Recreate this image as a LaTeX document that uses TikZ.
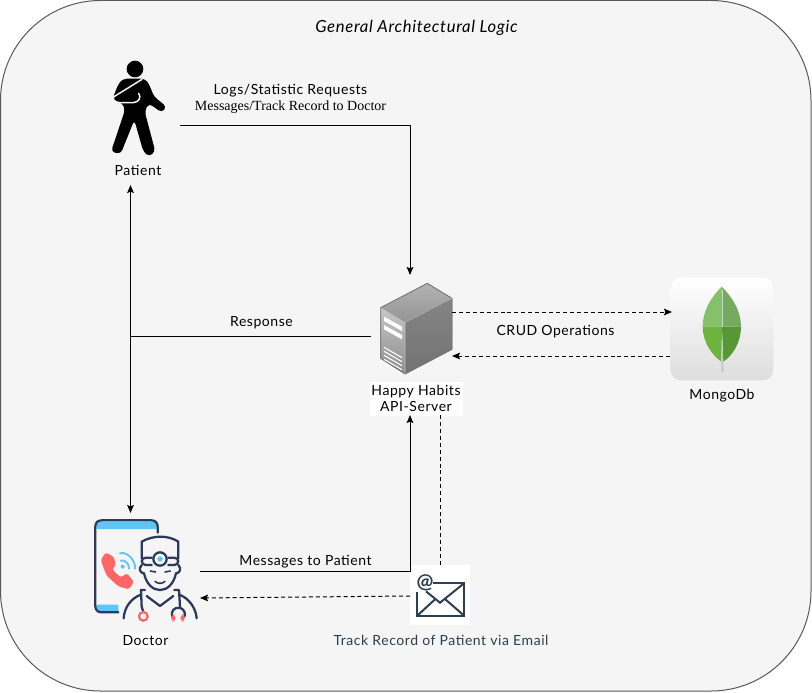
\documentclass[tikz,border=0pt]{standalone}
\usepackage{fontspec}
\setmainfont[LetterSpace=4]{Lato}
\newfontfamily\serifish{Liberation Serif}
\usetikzlibrary{arrows.meta,calc}
\definecolor{panel}{HTML}{F5F5F5}
\definecolor{navy}{HTML}{2B3A5C}
\definecolor{mailink}{HTML}{2D3E50}
\definecolor{skyb}{HTML}{5FC5F5}
\definecolor{redp}{HTML}{FF6666}
\tikzset{
  x=0.75pt,y=-0.75pt,
  lbl/.style={inner sep=0pt,align=center,font=\fontsize{10.5}{12}\selectfont},
  slot/.style={inner sep=0pt,draw=none,fill=none},
  flow/.style={draw=black,line width=0.75pt,-{Stealth[length=6pt,width=5pt,inset=1pt]}},
  both/.style={draw=black,line width=0.75pt,{Stealth[length=6pt,width=5pt,inset=1pt]}-{Stealth[length=6pt,width=5pt,inset=1pt]}},
  plainline/.style={draw=black,line width=0.75pt},
  dflow/.style={flow,dash pattern=on 3pt off 2.2pt},
  dline/.style={plainline,dash pattern=on 3pt off 2.2pt},
  navyline/.style={draw=navy,line width=1.7pt,line cap=round,line join=round},
}
\begin{document}
\begin{tikzpicture}
\useasboundingbox (0,0) rectangle (812,692);
\draw[fill=panel,draw=black!65,line width=0.75pt,rounded corners=75pt] (0.5,0.5) rectangle (811,691);
\node[lbl,font=\fontsize{12.5}{14}\selectfont\itshape] (title) at (416.5,28) {General Architectural Logic};

% white label backgrounds
\fill[white] (370,382) rectangle (463,416);
\fill[white] (123,633) rectangle (168,648);

% invisible icon boxes
\node[slot,minimum width=63pt,minimum height=97pt] (patient) at (138,125) {};
\node[slot,minimum width=54pt,minimum height=91pt] (server) at (416,336) {};
\node[slot,minimum width=76.5pt,minimum height=76.5pt] (mongo) at (722,329) {};
\node[slot,minimum width=78pt,minimum height=84pt] (doctor) at (148,571) {};
\node[slot,minimum width=45pt,minimum height=45pt,fill=white] (mail) at (440,595) {};

% patient figure
\begin{scope}[shift={(80,40)},x=0.25pt,y=-0.25pt]
  \fill[black] (165,87) circle (25);
  \fill[black,rounded corners=3pt] (130,116) -- (195,116) -- (207,132) -- (222,170) -- (260,200) -- (246,218) -- (206,190) -- (194,214) -- (226,335) -- (207,350) -- (190,335) -- (163,240) -- (122,342) -- (93,335) -- (135,210) -- (128,190) -- (97,178) -- (116,130) -- cycle;
  \draw[panel,line width=1.1pt,line cap=round,line join=round] (186,118) -- (102,170) .. controls (97,178) and (100,186) .. (112,188) -- (160,188) .. controls (178,186) and (184,172) .. (176,160);
\end{scope}

% server
\begin{scope}[shift={(350,270)},x=0.25pt,y=-0.25pt]
  \fill[top color=black!30,bottom color=black!42] (92,113) -- (232,40) -- (306,85) -- (165,157) -- cycle;
  \fill[top color=black!22,bottom color=black!45] (92,113) -- (165,157) -- (165,312) -- (92,265) -- cycle;
  \fill[top color=black!48,bottom color=black!55] (165,157) -- (306,85) -- (306,238) -- (165,312) -- cycle;
  \draw[black!55,line width=0.6pt,line join=round] (92,113) -- (232,40) -- (306,85) -- (306,238) -- (165,312) -- (92,265) -- cycle;
  \draw[black!25,line width=0.4pt] (92,113) -- (165,157) -- (306,85) (165,157) -- (165,312);
  \fill[white] (102,140) -- (156,170) -- (156,183) -- (102,153) -- cycle;
  \fill[white] (102,165) -- (156,195) -- (156,208) -- (102,178) -- cycle;
  \foreach \d in {0,12,24,36,48} {
    \draw[white,line width=0.8pt] (102,232+\d) -- (156,263+\d);
  }
\end{scope}

% mongo tile
\shade[top color=white,bottom color=black!13,rounded corners=7.5pt] (mongo.south west) rectangle (mongo.north east);
\begin{scope}[shift={(660,270)},x=0.25pt,y=-0.25pt]
  \fill[fill={rgb,255:red,134;green,192;blue,106}] (185,50) .. controls (150,85) and (128,125) .. (128,170) -- (186,170) -- cycle;
  \fill[fill={rgb,255:red,118;green,171;blue,95}] (185,50) .. controls (220,85) and (243,125) .. (243,170) -- (186,170) -- cycle;
  \fill[fill={rgb,255:red,108;green,179;blue,63}] (128,170) .. controls (128,215) and (155,255) .. (184,275) -- (186,170) -- cycle;
  \fill[fill={rgb,255:red,88;green,150;blue,54}] (243,170) .. controls (243,215) and (220,255) .. (190,275) -- (186,170) -- cycle;
  \draw[white,opacity=0.6,line width=0.5pt] (186,60) -- (186,170);
  \fill[black!22] (184,240) -- (188,240) -- (191,305) -- (184,307) -- cycle;
\end{scope}

% doctor
\begin{scope}[shift={(85,510)},x=0.25pt,y=-0.25pt]
  \fill[skyb] (35,57) -- (35,50) .. controls (35,40) and (40,35) .. (50,35) -- (200,35) .. controls (210,35) and (215,40) .. (215,50) -- (215,57) -- cycle;
  \fill[skyb] (35,284) -- (100,284) -- (100,305) -- (50,305) .. controls (40,305) and (35,300) .. (35,290) -- cycle;
  \draw[navyline] (218,68) -- (218,50) .. controls (218,38) and (210,31) .. (200,31) -- (50,31) .. controls (38,31) and (31,38) .. (31,50) -- (31,288) .. controls (31,300) and (38,307) .. (50,307) -- (100,307);
  % handset
  \fill[redp,rounded corners=2pt] (47,150) -- (62,127) -- (86,140) -- (93,165) -- (81,178) -- (108,203) -- (125,189) -- (147,215) -- (132,238) -- (100,229) -- (65,197) -- cycle;
  % waves
  \draw[skyb,line width=1.4pt,line cap=round] (105,130) .. controls (125,123) and (152,150) .. (150,176);
  \draw[skyb,line width=1.4pt,line cap=round] (107,152) .. controls (118,147) and (134,162) .. (132,176);
  \fill[skyb] (113,170) circle (6);
  % cap
  \fill[panel] (170,165) -- (170,95) .. controls (205,75) and (250,75) .. (280,95) -- (280,165) -- (282,185) .. controls (275,225) and (245,240) .. (225,240) .. controls (200,240) and (175,225) .. (168,185) -- cycle;
  \draw[navyline] (170,145) -- (170,95) .. controls (205,75) and (250,75) .. (280,95) -- (280,145);
  \draw[navyline,rounded corners=3pt] (200,143) -- (170,143) -- (170,165) -- (200,165) (250,143) -- (280,143) -- (280,165) -- (250,165);
  \draw[navyline,fill=white] (225,147) circle (20);
  \fill[skyb] (225,147) circle (8);
  % face
  \draw[navyline] (170,165) .. controls (160,175) and (165,190) .. (177,190) .. controls (185,225) and (205,240) .. (225,240) .. controls (245,240) and (265,225) .. (273,190) .. controls (285,190) and (290,175) .. (280,165);
  \draw[navyline,line width=1.2pt] (196,183) -- (212,186) (240,186) -- (256,183);
  \draw[navyline,line width=1.2pt] (210,214) .. controls (218,222) and (232,222) .. (240,214);
  % shoulders
  \draw[navyline] (116,325) .. controls (118,290) and (140,265) .. (165,255);
  \draw[navyline] (335,325) .. controls (333,295) and (312,265) .. (285,255);
  % collar and stethoscope
  \draw[navyline] (180,240) -- (168,240) -- (170,290) -- (175,305);
  \draw[navyline] (185,258) -- (225,288) -- (265,258);
  \draw[navyline] (268,240) -- (282,240) -- (285,290);
  \draw[navyline] (261,318) .. controls (255,285) and (305,285) .. (299,318);
  \draw[redp,line width=1.7pt,fill=white] (175,319) circle (13);
  \fill[redp,rounded corners=3pt] (258,314) rectangle (272,334);
  \fill[redp,rounded corners=3pt] (286,314) rectangle (300,334);
\end{scope}

% mail icon
\begin{scope}[shift={(320,550)},x=0.25pt,y=-0.25pt]
  \draw[mailink,line width=1.5pt,line join=miter] (340,100) -- (432,100) -- (432,197) -- (292,197) -- (292,125);
  \draw[mailink,line width=1.5pt] (432,100) -- (360,158) -- (318,124);
  \draw[mailink,line width=1.5pt] (294,195) -- (345,148) (430,195) -- (375,147);
  \node[inner sep=0pt,text=mailink,font=\fontsize{15}{15}\selectfont\bfseries] (at) at (315,97) {@};
\end{scope}

% labels
\node[lbl] (patientlbl) at (138,170) {Patient};
\node[lbl,font=\fontsize{10.5}{12.5}\selectfont] (serverlbl) at (416,398.5) {Happy Habits\\ API-Server};
\node[lbl] (mongolbl) at (722,396) {MongoDb};
\node[lbl] (doctorlbl) at (145.5,640.5) {Doctor};
\node[lbl,text=mailink] (maillbl) at (441,640) {Track Record of Patient via Email};
\node[lbl] (reqlbl) at (290.5,91) {Logs/Statistic Requests};
\node[lbl,font=\fontsize{10.5}{12}\serifish] (msglbl) at (290.5,107) {Messages/Track Record to Doctor};
\node[lbl] (resplbl) at (261.5,323) {Response};
\node[lbl] (crudlbl) at (555.5,332) {CRUD Operations};
\node[lbl] (topatientlbl) at (305.5,562) {Messages to Patient};

% connection points
\coordinate (hub) at (130.5,336);
\coordinate (patientport) at (130.5,185);
\coordinate (doctorport) at (130.5,513);
\coordinate (srvtop) at (410,275);
\coordinate (srvleft) at (371,336);
\coordinate (srvlow) at (410,415);
\coordinate (srvlow2) at (440.5,415);
\coordinate (srvout) at (452,312);
\coordinate (srvin) at (452,356);
\coordinate (mongoin) at (672,312);
\coordinate (mongoout) at (670,356);
\coordinate (docout) at (200,571);
\coordinate (docin) at (200,598);
\coordinate (mailout) at (410,596);
\coordinate (mailtop) at (440.5,565);

% connectors
\draw[flow] (patient.east) -| (srvtop);
\draw[both] (patientport) -- (doctorport);
\draw[plainline] (srvleft) -- (hub);
\draw[dflow] (srvout) -- (mongoin);
\draw[dflow] (mongoout) -- (srvin);
\draw[flow] (docout) -| (srvlow);
\draw[dline] (srvlow2) -- (mailtop);
\draw[dflow] (mailout) -- (docin);
\end{tikzpicture}
\end{document}
